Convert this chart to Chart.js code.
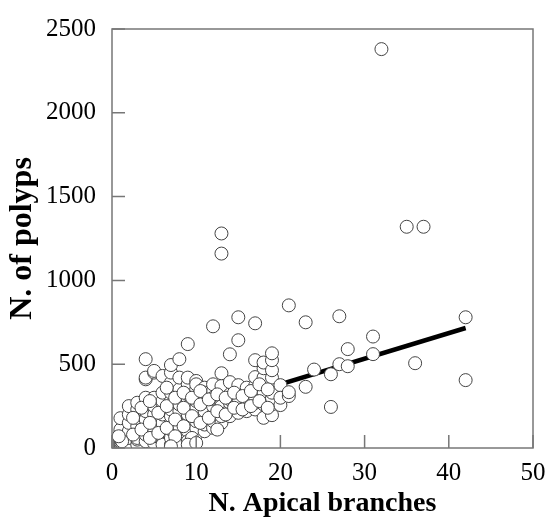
<!DOCTYPE html>
<html>
<head>
<meta charset="utf-8">
<script src="https://cdn.jsdelivr.net/npm/chart.js@4.4.0/dist/chart.umd.min.js"></script>
<style>
  html, body { margin: 0; padding: 0; background: #fff; }
  #wrap { width: 549px; height: 518px; }
</style>
</head>
<body>
<div id="wrap"><canvas id="myChart" width="549" height="518"></canvas></div>
<script>
// branches (x) and polyps (y), one pair per colony
var branches = [
  1,1,1,1,1,1,1,1,1,1,1,
  2,2,2,2,2,2,
  3,3,3,3,3,3,3,3,
  4,4,4,4,4,4,4,4,4,4,
  5,5,5,5,5,5,5,5,5,5,
  6,6,6,6,6,6,6,6,6,
  7,7,7,7,7,7,7,7,7,7,7,7,
  8,8,8,8,8,8,8,8,8,8,8,
  9,9,9,9,9,9,9,9,9,9,9,
  10,10,10,10,10,10,10,10,10,10,
  11,11,11,11,11,11,11,11,11,
  12,12,12,12,12,12,12,12,12,
  13,13,13,13,13,13,13,13,13,13,
  14,14,14,14,14,14,14,
  15,15,15,15,15,15,15,15,
  16,16,16,16,16,
  17,17,17,17,17,17,17,17,
  18,18,18,18,18,18,18,18,
  19,19,19,19,19,19,19,19,19,
  20,20,20,
  21,21,21,
  23,23,
  24,
  26,26,
  27,27,
  28,28,
  31,31,
  32,
  35,
  36,
  37,
  42,42,
  // colonies lying between the main columns
  2.5,2.5,3.5,3.5,4.5,4.5,4.5,5.5,5.5,6.5,6.5,6.5,7.5,7.5,7.5,8.5,8.5,8.5,
  9.5,9.5,9.5,10.5,10.5,10.5,11.5,11.5,12.5,12.5,12.5,13.5,13.5,14.5,14.5,
  15.5,15.5,16.5,16.5,17.5,17.5,18.5,18.5,7,9,10,1.2,0.8
];
var polyps = [
  0,10,20,30,40,50,60,75,90,110,178,
  30,60,100,150,200,250,
  20,50,90,130,180,230,270,60,
  40,80,130,170,220,260,410,420,530,300,
  30,70,120,160,200,250,300,450,460,100,
  50,100,150,200,240,280,430,330,20,
  20,60,110,150,190,230,280,330,390,450,495,10,
  40,90,130,180,220,260,300,350,420,530,30,
  60,100,150,200,250,290,320,380,420,620,40,
  80,120,160,200,240,280,310,350,400,380,
  100,140,190,230,270,310,360,220,330,
  120,160,200,250,290,340,380,726,300,
  150,190,230,270,310,370,446,1160,1280,250,
  190,230,270,320,393,559,290,
  210,250,290,330,375,643,780,270,
  220,270,310,360,290,
  230,270,320,370,423,524,744,300,
  180,260,300,350,420,476,510,330,
  196,260,298,360,420,464,524,565,330,
  256,375,300,
  310,333,851,
  365,750,
  468,
  245,440,
  500,786,
  488,590,
  560,665,
  2380,
  1320,
  506,
  1320,
  405,780,
  80,180,110,240,60,150,280,90,210,120,250,360,70,170,300,130,240,330,
  60,190,300,150,260,340,180,290,110,220,320,200,300,240,330,
  230,310,250,340,280,380,240,350,10,20,30,40,70
];
// fitted line end points
var fitX = [1, 42];
var fitY = [90, 716];

var scatterData = branches.map(function (b, i) { return { x: b, y: polyps[i] }; });
var fitData = fitX.map(function (b, i) { return { x: b, y: fitY[i] }; });

var serif = "'Liberation Serif', 'Times New Roman', serif";

// frame and inward tick marks
var framePlugin = {
  id: 'frame',
  afterDatasetsDraw: function (chart) {
    var ctx = chart.ctx, a = chart.chartArea;
    var xs = chart.scales.x, ys = chart.scales.y;
    ctx.save();
    ctx.strokeStyle = '#777';
    ctx.lineWidth = 1.5;
    ctx.strokeRect(a.left, a.top, a.right - a.left, a.bottom - a.top);
    ctx.beginPath();
    xs.ticks.forEach(function (t) {
      var px = xs.getPixelForValue(t.value);
      ctx.moveTo(px, a.bottom);
      ctx.lineTo(px, a.bottom - 13);
    });
    ys.ticks.forEach(function (t) {
      var py = ys.getPixelForValue(t.value);
      ctx.moveTo(a.left, py);
      ctx.lineTo(a.left + 13, py);
    });
    ctx.stroke();
    ctx.restore();
  }
};

var chart = new Chart('myChart', {
  type: 'scatter',
  data: {
    datasets: [{
      label: 'colonies',
      data: scatterData,
      pointRadius: 6.5,
      pointHoverRadius: 6.5,
      pointBorderWidth: 1,
      pointBackgroundColor: '#fff',
      pointBorderColor: '#444',
      order: 1
    }, {
      type: 'line',
      label: 'fit',
      data: fitData,
      borderColor: '#000',
      borderWidth: 4.5,
      pointRadius: 0,
      fill: false,
      order: 2
    }]
  },
  options: {
    responsive: false,
    animation: false,
    layout: { padding: { top: 29, right: 16, left: 0, bottom: 0 } },
    plugins: { legend: { display: false }, tooltip: { enabled: false } },
    scales: {
      x: {
        type: 'linear',
        min: 0, max: 50,
        afterFit: function (s) { s.height = 70; },
        grid: { display: false },
        border: { display: false },
        ticks: { stepSize: 10, color: '#000', padding: 2,
                 callback: function (v) { return String(v); },
                 font: { family: serif, size: 25 } },
        title: { display: true, text: 'N. Apical branches', color: '#000', padding: { top: 0, bottom: -3 },
                 font: { family: serif, size: 28, weight: 'bold' } }
      },
      y: {
        min: 0, max: 2500,
        afterFit: function (s) { s.width = 112; },
        grid: { display: false },
        border: { display: false },
        ticks: { stepSize: 500, color: '#000', padding: 8,
                 callback: function (v) { return String(v); },
                 font: { family: serif, size: 25 } },
        title: { display: true, text: 'N. of polyps', color: '#000', padding: { bottom: 2 },
                 font: { family: serif, size: 32, weight: 'bold' } }
      }
    }
  },
  plugins: [framePlugin]
});
</script>
</body>
</html>
